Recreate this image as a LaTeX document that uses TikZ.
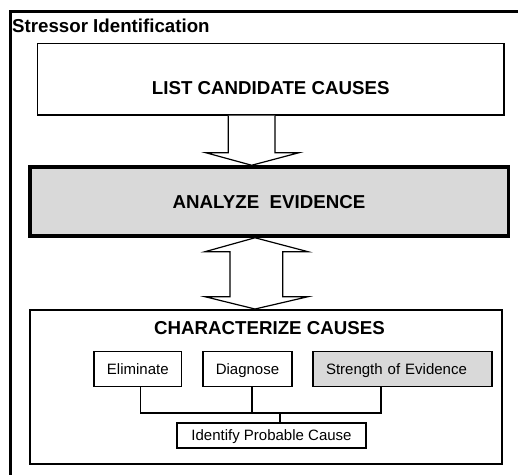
\documentclass[tikz,border=0pt]{standalone}
\usepackage{fontspec}
\setmainfont{Liberation Sans}
\usetikzlibrary{calc}
\definecolor{panelgray}{HTML}{D9D9D9}
\def\headfont{\fontsize{18.7}{21}\selectfont\bfseries}
\def\stepfont{\fontsize{15}{17}\selectfont}

\begin{document}
\begin{tikzpicture}[x=1pt,y=-1pt,
		box/.style={draw, inner sep=0pt, font=\headfont, text height=17.8pt, text depth=4.5pt},
		stepbox/.style={draw, line width=1.2pt, inner sep=0pt, font=\stepfont, text height=14.2pt, text depth=3.5pt},
		blockarrow/.style={draw, fill=white, line width=1.2pt, line join=miter},
		link/.style={line width=1.2pt}]
				\useasboundingbox (0,0) rectangle (518,474);
				
				\draw[line width=3.5pt] (10.3,480) |- (530,11.7);
				\node[anchor=base west, inner sep=0pt, font=\headfont] (title) at (12,32) {Stressor Identification};
				
				\node[box, line width=1.3pt, minimum width=466.5, minimum height=71.3, text height=35.4pt] (list) at (270.75,79.25) {LIST CANDIDATE CAUSES};
				\node[box, line width=3.5pt, fill=panelgray, minimum width=478.5, minimum height=69] (analyze) at (269,201.5) {ANALYZE\ \ EVIDENCE};
				\node[box, line width=2pt, minimum width=472, minimum height=154] (characterize) at (265.5,387) {};
				\node[inner sep=0pt, font=\headfont, text height=17.8pt, text depth=4.5pt] (chartitle) at (269.5,327.5) {CHARACTERIZE CAUSES};
				
				\node[stepbox, minimum width=87.5, minimum height=35.5] (eliminate) at (137.8,369) {Eliminate};
				\node[stepbox, minimum width=89, minimum height=35.5] (diagnose) at (247.5,369) {Diagnose};
				\node[stepbox, fill=panelgray, minimum height=35.5, inner xsep=13pt, text width=153pt, align=left] (strength) at (402.5,369) {Strength of Evidence};
				\node[stepbox, minimum width=189, minimum height=25] (identify) at (271.5,435.5) {Identify Probable Cause};
				
				\draw[blockarrow] (list.south -| 228.3,0) -- (228.3,152.7) -- (205.7,152.7) -- (analyze.north -| 251.7,0) -- (299,152.7) -- (275,152.7) -- (list.south -| 275,0);
				\draw[blockarrow] (analyze.south -| 255,0) -- (308,251.7) -- (282.7,251.7) -- (282.7,296.7) -- (308,296.7) -- (characterize.north -| 255,0) -- (205,296.7) -- (230,296.7) -- (230,251.7) -- (205,251.7) -- cycle;
				
				\coordinate (bus) at (280,413);
				\draw[link] ([xshift=3]eliminate.south) |- (bus) -| ([xshift=-21.5]strength.south);
				\draw[link] ([xshift=4.5]diagnose.south) -- ([xshift=4.5]diagnose.south |- bus);
				\draw[link] (bus) -- (bus |- identify.north);
			\end{tikzpicture}
\end{document}
